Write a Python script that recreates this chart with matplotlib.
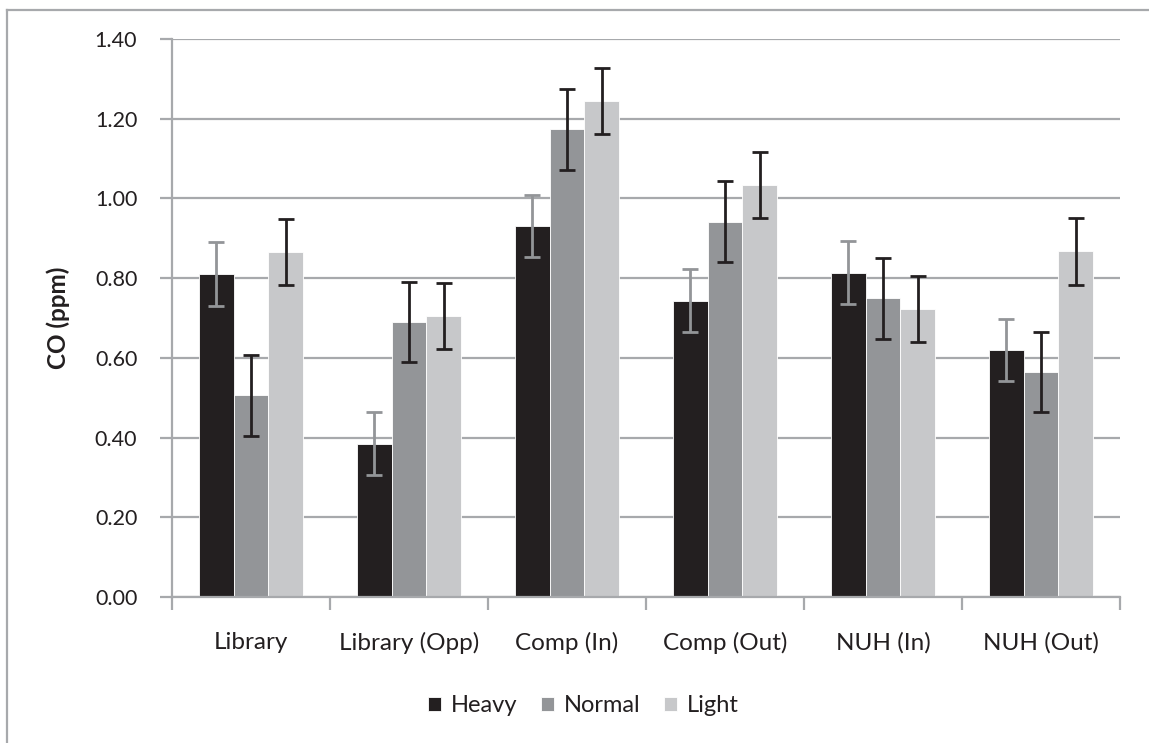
import matplotlib.pyplot as plt
import numpy as np
from matplotlib.lines import Line2D

plt.rcParams['font.family'] = ['Lato', 'DejaVu Sans']

sites = ['Library', 'Library (Opp)', 'Comp (In)', 'Comp (Out)', 'NUH (In)', 'NUH (Out)']
series = ['Heavy', 'Normal', 'Light']

heavy = [0.81, 0.385, 0.93, 0.743, 0.814, 0.62]
normal = [0.506, 0.69, 1.173, 0.942, 0.749, 0.565]
light = [0.866, 0.704, 1.245, 1.034, 0.723, 0.867]

heavy_err = [0.08, 0.078, 0.078, 0.079, 0.078, 0.078]
normal_err = [0.102, 0.101, 0.101, 0.102, 0.101, 0.101]
light_err = [0.083, 0.083, 0.083, 0.083, 0.083, 0.083]

colors = ['#231f20', '#939598', '#c7c8ca']
err_colors = ['#939598', '#231f20', '#231f20']
grid_col = '#a7a9ac'
text_col = '#231f20'

fig = plt.figure(figsize=(11.49, 7.43), dpi=100)
ax = fig.add_axes([172 / 1149, 146 / 743, 948 / 1149, 558 / 743])

x = np.arange(len(sites))
w = 0.219
vals = [heavy, normal, light]
errs = [heavy_err, normal_err, light_err]
for k in range(3):
    ax.bar(x + (k - 1) * w, vals[k], w, color=colors[k], edgecolor='white',
           linewidth=0.6, label=series[k], zorder=2)
    ax.errorbar(x + (k - 1) * w, vals[k], yerr=errs[k], fmt='none',
                ecolor=err_colors[k], elinewidth=2, capsize=6, capthick=2, zorder=3)

ax.set_xlim(-0.5, len(sites) - 0.5)
ax.set_ylim(0, 1.4)
ax.set_yticks(np.arange(0, 1.41, 0.2))
ax.set_yticklabels(['%.2f' % v for v in np.arange(0, 1.41, 0.2)])
ax.yaxis.grid(True, color=grid_col, linewidth=1.6, zorder=0)
ax.set_axisbelow(True)

# boundaries between sites get the tick marks, names sit at centres
ax.set_xticks(np.arange(-0.5, len(sites), 1.0))
ax.set_xticklabels([])
ax.set_xticks(x, minor=True)
ax.set_xticklabels(sites, minor=True)
ax.tick_params(axis='x', which='major', length=9, width=1.6, color=grid_col)
ax.tick_params(axis='x', which='minor', length=0, pad=25, labelsize=17.5, labelcolor=text_col)
ax.tick_params(axis='y', length=9, width=1.6, color=grid_col, pad=16,
               labelsize=15.5, labelcolor=text_col)

for s in ['top', 'right']:
    ax.spines[s].set_visible(False)
for s in ['left', 'bottom']:
    ax.spines[s].set_color(grid_col)
    ax.spines[s].set_linewidth(1.6)

ax.set_ylabel('CO (ppm)', fontsize=17.5, fontweight='bold', color=text_col, labelpad=18)

fig.legend(loc='center', bbox_to_anchor=(583 / 1149, 37 / 743), ncol=3, frameon=False,
           fontsize=17, handlelength=0.55, handleheight=0.55, handletextpad=0.42,
           columnspacing=1.0, labelcolor=text_col)

# outer frame of the chart area
fig.add_artist(Line2D([7 / 1149, 7 / 1149], [0, 1 - 10 / 743], transform=fig.transFigure,
                      color=grid_col, linewidth=1.6))
fig.add_artist(Line2D([7 / 1149, 1], [1 - 10 / 743, 1 - 10 / 743], transform=fig.transFigure,
                      color=grid_col, linewidth=1.6))

fig.savefig('out.png', dpi=100)
